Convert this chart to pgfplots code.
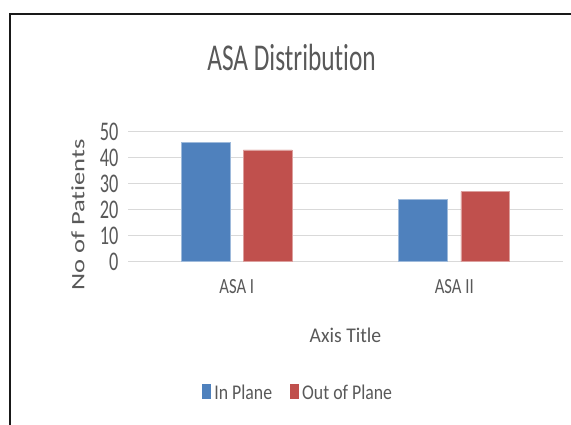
\documentclass[border=0pt]{standalone}
\usepackage{fontspec}
\setmainfont{Carlito}[Ligatures=NoCommon]
\newfontfamily\titlefont[FakeStretch=0.67,Ligatures=NoCommon]{Carlito}
\newfontfamily\tickfont[FakeStretch=0.68,Ligatures=NoCommon]{Carlito}
\newfontfamily\catfont[FakeStretch=0.77,Ligatures=NoCommon]{Carlito}
\newfontfamily\legfont[FakeStretch=0.85,Ligatures=NoCommon]{Carlito}
\newfontfamily\axtitlefont[FakeStretch=0.94,Ligatures=NoCommon]{Carlito}
\newfontfamily\ylabfont[FakeStretch=1.4,Ligatures=NoCommon]{Carlito}
\usepackage{pgfplots}
\pgfplotsset{compat=1.18}

\definecolor{ipblue}{HTML}{4F81BD}
\definecolor{opred}{HTML}{C0504D}
\definecolor{txtgray}{HTML}{595959}
\definecolor{gridgray}{HTML}{D9D9D9}

\begin{document}
\begin{tikzpicture}
\useasboundingbox (0,0) rectangle (571bp,-425bp);
\fill[white] (0,0) rectangle (571bp,-425bp);
% chart frame
\draw[line width=2bp, black!90] (10.3bp,-425bp) -- (10.3bp,-13.7bp) -- (571bp,-13.7bp);

\begin{axis}[
  at={(128bp,-261.7bp)}, anchor=south west,
  width=435bp, height=130bp, scale only axis,
  xmin=-0.5, xmax=1.5, ymin=0, ymax=50,
  xtick={0,1}, xticklabels={ASA I, ASA II},
  ytick={0,10,...,50},
  axis line style={draw=none}, major tick length=0pt,
  ymajorgrids, grid style={gridgray, line width=1.3bp},
  /pgf/number format/assume math mode=true,
  yticklabel style={text=txtgray, font=\tickfont\fontsize{27}{30}\selectfont, xshift=-6bp},
  xticklabel style={text=txtgray, font=\catfont\fontsize{21.7}{24}\selectfont, yshift=-14bp},
  title={ASA Distribution},
  every axis title/.style={at={(axis description cs:0.376,1.4746)}, anchor=base,
    text=txtgray, font=\titlefont\fontsize{38}{42}\selectfont},
  xlabel={Axis Title},
  every axis x label/.style={at={(axis description cs:0.5,-0.6177)}, anchor=base,
    text=txtgray, font=\axtitlefont\fontsize{21}{24}\selectfont},
  ylabel={No of Patients},
  every axis y label/.style={at={(axis description cs:-0.115,0.359)}, rotate=90, anchor=center,
    text=txtgray, font=\ylabfont\fontsize{19}{22}\selectfont},
  legend columns=2,
  legend style={at={(0.389,-1.006)}, anchor=center, draw=none, fill=none,
    text=txtgray, font=\legfont\fontsize{21}{24}\selectfont,
    nodes={inner sep=0pt},
    /tikz/column sep=3bp,
    /tikz/every even column/.append style={column sep=18bp}},
  legend image code/.code={\path[#1,draw=none] (0bp,-6bp) rectangle (9bp,9bp);},
]
\addplot[ybar, bar width=0.224, bar shift=-0.143, fill=ipblue, draw=ipblue!55!white, line width=0.6bp]
  coordinates {(0,46) (1,24)};
\addplot[ybar, bar width=0.224, bar shift=0.143, fill=opred, draw=opred!55!white, line width=0.6bp]
  coordinates {(0,43) (1,27)};
\legend{In Plane, Out of Plane}
\end{axis}
\end{tikzpicture}
\end{document}
